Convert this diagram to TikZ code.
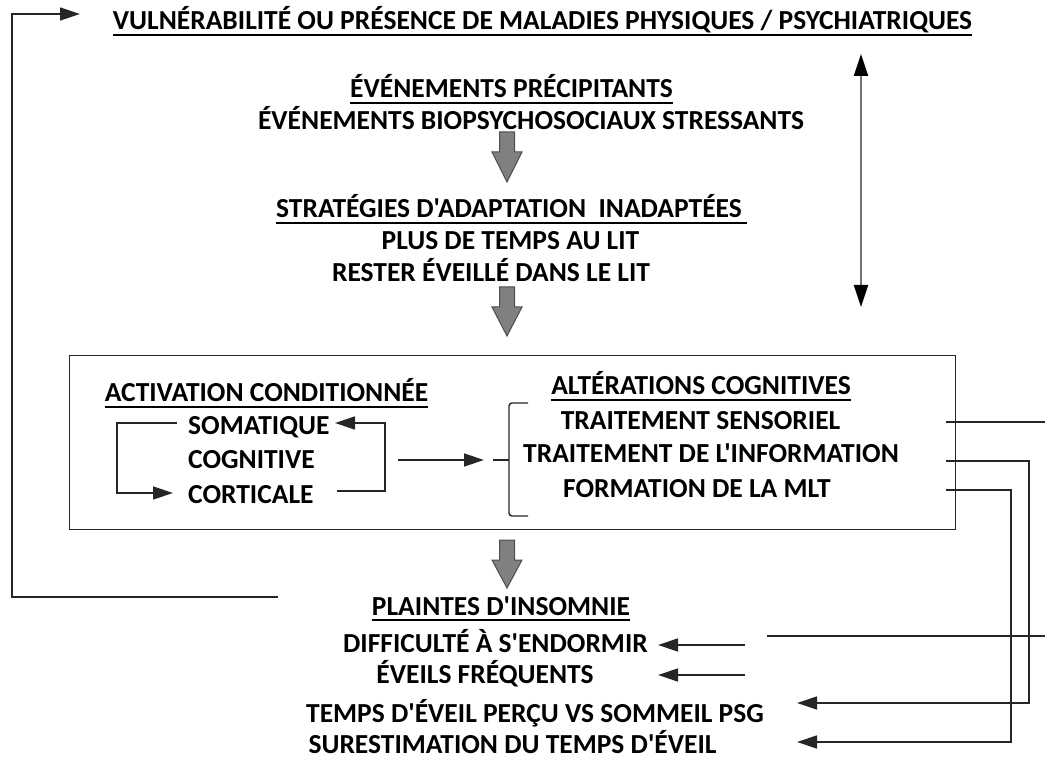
\documentclass[tikz,border=0pt]{standalone}
\usepackage{fontspec}
\setmainfont{Carlito}[Ligatures=TeXOff]
\usetikzlibrary{arrows.meta}
\newcommand\blockarr[3]{%
  \path[fill=black!50, draw=black!70, line width=1pt]
    (#1-7.5,#2) -- (#1+7.5,#2) -- (#1+7.5,#2+20) -- (#1+15,#2+20) -- (#1,#3)
    -- (#1-15,#2+20) -- (#1-7.5,#2+20) -- cycle;}
\begin{document}
\begin{tikzpicture}[x=1pt,y=-1pt,
  txt/.style={font=\bfseries\fontsize{27.5}{32}\selectfont, inner sep=0pt, anchor=base},
  ln/.style={line width=1.4pt, draw=black!85},
  arr/.style={ln, -{Triangle[length=20pt,width=13pt]}},
  ul/.style={line width=2pt}
]
\useasboundingbox (0,0) rectangle (1045,759);
% texts
\node[txt] (title) at (542.5,30) {VULNÉRABILITÉ OU PRÉSENCE DE MALADIES PHYSIQUES / PSYCHIATRIQUES};
\node[txt] (ep) at (511.5,98) {ÉVÉNEMENTS PRÉCIPITANTS};
\node[txt] (ebs) at (531,130) {ÉVÉNEMENTS BIOPSYCHOSOCIAUX STRESSANTS};
\node[txt] (strat) at (509,218) {STRATÉGIES D'ADAPTATION\ \ INADAPTÉES};
\node[txt] (plus) at (510.5,250) {PLUS DE TEMPS AU LIT};
\node[txt] (rester) at (491,282) {RESTER ÉVEILLÉ DANS LE LIT};
\node[draw, line width=1.4pt, draw=black!85, minimum width=886pt, minimum height=174pt, inner sep=0pt, anchor=north west] (box) at (69,355) {};
\node[txt] (act) at (266.5,402) {ACTIVATION CONDITIONNÉE};
\node[txt,anchor=base west] (som) at (188,435) {SOMATIQUE};
\node[txt,anchor=base west] (cog) at (188,468) {COGNITIVE};
\node[txt,anchor=base west] (cor) at (188,503) {CORTICALE};
\node[txt] (alt) at (701,395) {ALTÉRATIONS COGNITIVES};
\node[txt] (ts) at (700.5,429) {TRAITEMENT SENSORIEL};
\node[txt] (tdi) at (711,463) {TRAITEMENT DE L'INFORMATION};
\node[txt] (fm) at (697,497) {FORMATION DE LA MLT};
\node[txt] (pl) at (501,615) {PLAINTES D'INSOMNIE};
\node[txt] (df) at (495.5,652) {DIFFICULTÉ À S'ENDORMIR};
\node[txt] (ef) at (485,683) {ÉVEILS FRÉQUENTS};
\node[txt] (te) at (535,722) {TEMPS D'ÉVEIL PERÇU VS SOMMEIL PSG};
\node[txt] (su) at (512.5,753) {SURESTIMATION DU TEMPS D'ÉVEIL};
% underlines
\foreach \n in {title,ep,act,alt,pl}
  \draw[ul] ([yshift=-5pt]\n.base west) -- ([yshift=-5pt]\n.base east);
\draw[ul] ([yshift=-5pt]strat.base west) -- ([yshift=-5pt,xshift=5pt]strat.base east);
% block arrows
\blockarr{507}{132}{182}
\blockarr{507}{287}{336}
\blockarr{507}{540}{588}
% coordinates
\coordinate (la) at (177,423); \coordinate (lb) at (117,493); \coordinate (lc) at (173,493);
\coordinate (ra) at (337,491); \coordinate (rb) at (385,423); \coordinate (rc) at (335,423);
\coordinate (ma) at (398,460); \coordinate (mb) at (484,460);
\coordinate (bt) at (493,460); \coordinate (bm) at (509,460);
\coordinate (b1) at (528,403); \coordinate (b2) at (509,516); \coordinate (b3) at (528,516);
\coordinate (fa) at (278,597); \coordinate (fb) at (12,14); \coordinate (fc) at (80,14);
\coordinate (da) at (861,54); \coordinate (db) at (861,307);
\coordinate (s1) at (946,422); \coordinate (s2) at (1045,422);
\coordinate (s3) at (1045,636); \coordinate (s4) at (767,636);
\coordinate (i1) at (946,461); \coordinate (i2) at (1029,703); \coordinate (i3) at (797,703);
\coordinate (m1) at (946,490); \coordinate (m2) at (1011,742); \coordinate (m3) at (797,742);
\coordinate (d1) at (745,645); \coordinate (d2) at (658,645);
\coordinate (e1) at (745,675); \coordinate (e2) at (658,675);
% connectors
\draw[arr] (la) -| (lb) -- (lc);
\draw[arr] (ra) -| (rb) -- (rc);
\draw[arr] (ma) -- (mb);
\draw[ln] (bt) -- (bm);
\draw[ln, rounded corners=3pt] (b1) -| (b2) -- (b3);
\draw[arr] (fa) -| (fb) -- (fc);
\draw[line width=2pt, draw=black!55, {Triangle[length=22pt,width=14pt,color=black]}-{Triangle[length=22pt,width=14pt,color=black]}] (da) -- (db);
\draw[ln] (s1) -- (s2);
\draw[ln] (s3) -- (s4);
\draw[arr] (i1) -| (i2) -- (i3);
\draw[arr] (m1) -| (m2) -- (m3);
\draw[arr] (d1) -- (d2);
\draw[arr] (e1) -- (e2);
\end{tikzpicture}
\end{document}
